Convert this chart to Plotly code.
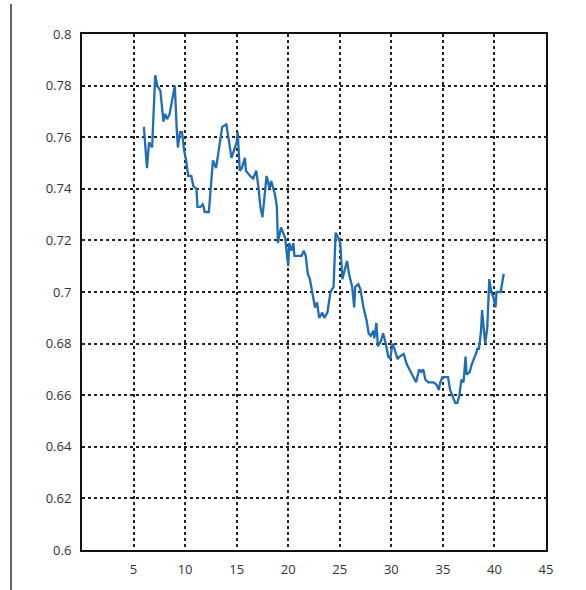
import plotly.graph_objects as go

# Series samples (x position, value)
x_vals = [6.0, 6.3, 6.5, 6.8, 7.1, 7.3, 7.6, 7.9, 8.05, 8.25, 8.5, 9.0, 9.2, 9.3, 9.5,
          9.7, 9.9, 10.1, 10.3, 10.6, 10.8, 11.1, 11.2, 11.5, 11.7, 11.8, 11.9, 12.3,
          12.5, 12.7, 13.0, 13.2, 13.4, 13.6, 14.0, 14.2, 14.5, 14.75, 15.0, 15.1, 15.3,
          15.5, 15.8, 15.9, 16.3, 16.6, 16.9, 17.1, 17.3, 17.5, 17.8, 17.9, 18.2, 18.35,
          18.7, 18.9, 19.0, 19.3, 19.7, 20.0, 20.1, 20.3, 20.5, 20.6, 21.3, 21.5, 21.7,
          21.9, 22.1, 22.4, 22.6, 22.8, 23.0, 23.3, 23.5, 23.8, 24.1, 24.4, 24.6, 24.85,
          25.05, 25.25, 25.4, 25.7, 25.9, 26.2, 26.4, 26.5, 26.8, 27.0, 27.3, 27.6, 27.8,
          28.0, 28.25, 28.35, 28.55, 28.7, 29.0, 29.2, 29.4, 29.7, 29.9, 30.1, 30.3, 30.6,
          30.8, 31.2, 31.5, 31.75, 32.1, 32.4, 32.7, 32.9, 33.1, 33.3, 33.6, 34.1, 34.4,
          34.6, 34.75, 34.95, 35.2, 35.3, 35.5, 35.7, 35.9, 36.2, 36.4, 36.6, 36.8, 37.0,
          37.2, 37.3, 37.6, 37.8, 38.2, 38.35, 38.5, 38.7, 38.8, 39.1, 39.3, 39.5, 39.7,
          39.9, 40.1, 40.2, 40.6, 40.9]
y_vals = [0.764, 0.748, 0.758, 0.756, 0.784, 0.780, 0.778, 0.766, 0.769, 0.767, 0.769,
          0.780, 0.762, 0.756, 0.762, 0.762, 0.755, 0.751, 0.745, 0.745, 0.741, 0.740,
          0.733, 0.733, 0.734, 0.733, 0.731, 0.731, 0.741, 0.751, 0.748, 0.754, 0.758,
          0.764, 0.765, 0.760, 0.752, 0.755, 0.758, 0.762, 0.747, 0.748, 0.752, 0.747,
          0.745, 0.744, 0.747, 0.741, 0.733, 0.729, 0.740, 0.745, 0.740, 0.743, 0.738,
          0.733, 0.719, 0.725, 0.721, 0.710, 0.719, 0.716, 0.719, 0.714, 0.714, 0.716,
          0.714, 0.707, 0.705, 0.698, 0.694, 0.696, 0.690, 0.692, 0.690, 0.692, 0.700,
          0.702, 0.723, 0.721, 0.719, 0.705, 0.707, 0.712, 0.707, 0.702, 0.694, 0.702,
          0.703, 0.701, 0.694, 0.689, 0.684, 0.683, 0.685, 0.682, 0.688, 0.679, 0.681,
          0.684, 0.681, 0.675, 0.674, 0.680, 0.678, 0.674, 0.675, 0.676, 0.672, 0.670,
          0.667, 0.665, 0.670, 0.669, 0.670, 0.666, 0.665, 0.665, 0.664, 0.662, 0.665,
          0.667, 0.667, 0.667, 0.667, 0.662, 0.660, 0.657, 0.657, 0.660, 0.666, 0.665,
          0.675, 0.668, 0.669, 0.672, 0.676, 0.678, 0.678, 0.685, 0.693, 0.680, 0.686,
          0.705, 0.700, 0.698, 0.694, 0.700, 0.700, 0.707]

x_ticks = [5, 10, 15, 20, 25, 30, 35, 40, 45]
y_ticks = [0.6, 0.62, 0.64, 0.66, 0.68, 0.7, 0.72, 0.74, 0.76, 0.78, 0.8]
y_tick_text = ["0.6", "0.62", "0.64", "0.66", "0.68", "0.7", "0.72", "0.74", "0.76", "0.78", "0.8"]

fig = go.Figure()
fig.add_trace(go.Scatter(
    x=x_vals, y=y_vals, mode="lines",
    line=dict(color="#1f6db4", width=2.3),
    showlegend=False, hoverinfo="skip",
))

axis_common = dict(
    showline=True, linecolor="#111111", linewidth=2, mirror=True,
    showgrid=True, gridcolor="#222222", gridwidth=1.5, griddash="dot",
    zeroline=False, ticks="",
    tickfont=dict(family="Open Sans, Liberation Sans, sans-serif", size=13, color="#333333"),
)

fig.update_xaxes(range=[0, 45], tickvals=x_ticks, ticktext=[str(v) for v in x_ticks],
                 ticklabelstandoff=6, **axis_common)
fig.update_yaxes(range=[0.6, 0.8], tickvals=y_ticks, ticktext=y_tick_text,
                 ticklabelstandoff=6, **axis_common)

# thin rule at the far left of the page
fig.add_shape(type="line", xref="paper", yref="paper",
              x0=-0.153, x1=-0.153, y0=1.058, y1=-0.08,
              line=dict(color="#333333", width=1.5))

fig.update_layout(
    width=586, height=590,
    margin=dict(l=82, r=40, t=34, b=40),
    paper_bgcolor="white", plot_bgcolor="white",
)

fig.write_html("out.html")
